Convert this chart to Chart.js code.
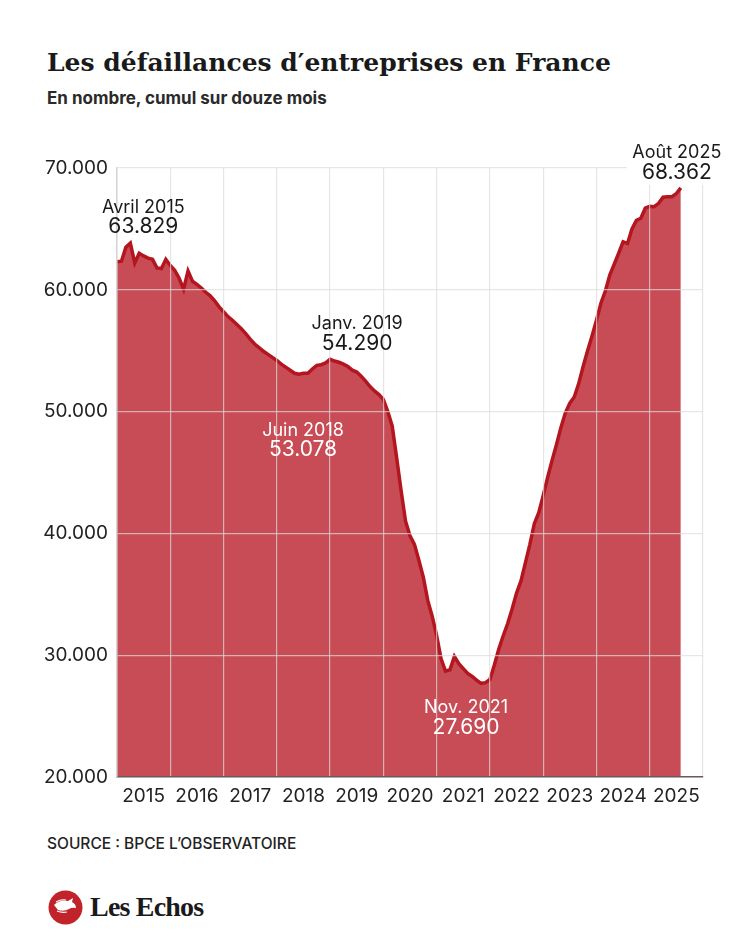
<!DOCTYPE html>
<html lang="fr">
<head>
    <meta charset="UTF-8">
    <title>Les défaillances d'entreprises en France</title>
    <style>
        body {
            margin: 0;
            background: #fff;
            font-family: Inter, Roboto, sans-serif;
            color: #222;
        }
        .page {
            position: relative;
            width: 750px;
            height: 938px;
            overflow: hidden;
        }
        .title {
            position: absolute;
            left: 47px;
            top: 50px;
            font: bold 25px/1 "DejaVu Serif", serif;
            color: #1a1a1a;
            white-space: nowrap;
        }
        .subtitle {
            position: absolute;
            left: 47px;
            top: 90px;
            font: 700 17px/1 Inter, sans-serif;
            color: #2a2a2a;
        }
        #chart {
            position: absolute;
            left: 0;
            top: 130px;
        }
        .source {
            position: absolute;
            left: 47px;
            top: 836px;
            font: 500 15.5px/1 Inter, sans-serif;
            color: #222;
        }
        .logo {
            position: absolute;
            left: 48px;
            top: 890px;
        }
        .brand {
            position: absolute;
            left: 90px;
            top: 893px;
            font: bold 28px/1 "Liberation Serif", serif;
            letter-spacing: -0.8px;
            color: #1a1a1a;
        }
    </style>
</head>
<body>
    <div class="page">
        <div class="title">Les défaillances d′entreprises en France</div>
        <div class="subtitle">En nombre, cumul sur douze mois</div>
        <canvas id="chart" width="750" height="685"></canvas>
        <div class="source">SOURCE : BPCE L’OBSERVATOIRE</div>
        <svg class="logo" width="35" height="35" viewBox="0 0 35 35">
            <circle cx="17.5" cy="17.5" r="17" fill="#c1232b"/>
            <path d="M6 15 q6 -6 14 -4 l5 -3 l-1 4 q4 2 4 6 q-4 -1 -7 1 q-5 3 -11 1 z" fill="#fff"/>
            <path d="M9 21 q5 2 10 1 M8 12 q5 -3 10 -2" stroke="#fff" stroke-width="1.2" fill="none"/>
        </svg>
        <div class="brand">Les Echos</div>
    </div>

    <script src="https://cdn.jsdelivr.net/npm/chart.js"></script>

    <script>
        // DATA : défaillances cumulées sur 12 mois, janv. 2015 -> août 2025 (index = mois depuis janv. 2015)
        const firstYear = 2015;
        const yearLabels = ['2015', '2016', '2017', '2018', '2019', '2020', '2021', '2022', '2023', '2024', '2025'];
        const yTicks = [20000, 30000, 40000, 50000, 60000, 70000];

        const monthlyCount = [
            62300, 62350, 63500, 63829, 62200, 63000, 62780, 62600, 62500, 61800, 61750, 62500, // 2015
            62000, 61600, 60950, 60050, 61550, 60700, 60450, 60150, 59800, 59500, 59100, 58600, // 2016
            58200, 57800, 57500, 57150, 56800, 56400, 55950, 55550, 55250, 54950, 54700, 54450, // 2017
            54200, 53900, 53650, 53400, 53150, 53078, 53150, 53150, 53500, 53800, 53850, 54000, // 2018
            54290, 54150, 54050, 53900, 53700, 53400, 53250, 52900, 52500, 52050, 51700, 51400, // 2019
            51000, 50000, 48800, 46200, 43500, 41000, 39800, 39100, 37800, 36400, 34500, 33200, // 2020
            31600, 29700, 28700, 28800, 29900, 29300, 28900, 28500, 28250, 27950, 27690, 27750, // 2021
            28000, 29200, 30500, 31600, 32600, 33800, 35100, 36100, 37600, 39100, 40800, 41700, // 2022
            43100, 44600, 46000, 47300, 48700, 49900, 50700, 51200, 52300, 53700, 55000, 56200, // 2023
            57500, 58900, 59900, 61200, 62100, 63000, 63950, 63800, 65000, 65700, 65870, 66700, // 2024
            66850, 66820, 67100, 67600, 67640, 67640, 67900, 68362                              // 2025
        ];

        const calloutMonths = [3, 48, 41, 82, 127];
        const calloutLabels = ['Avril 2015', 'Janv. 2019', 'Juin 2018', 'Nov. 2021', 'Août 2025'];
    </script>

    <script>
        const fmt = (v) => String(v).replace(/\B(?=(\d{3})+(?!\d))/g, '.');

        // where each callout sits relative to its point: [dx, dy label, dy value, colour, white box]
        const placement = {
            3: [13, -36, -16, '#1a1a1a', false],
            48: [27, -36, -16, '#1a1a1a', false],
            41: [4, 56, 76, '#ffffff', false],
            82: [-15, 24, 44, '#ffffff', false],
            127: [-4, -35, -15, '#1a1a1a', true]
        };

        const calloutPlugin = {
            id: 'callouts',
            afterDraw(chart) {
                const ctx = chart.ctx;
                const x = chart.scales.x;
                const y = chart.scales.y;
                ctx.save();
                ctx.textAlign = 'center';
                ctx.textBaseline = 'middle';
                calloutMonths.forEach((m, i) => {
                    const [dx, dyL, dyV, color, box] = placement[m];
                    const px = x.getPixelForValue(m) + dx;
                    const py = y.getPixelForValue(monthlyCount[m]);
                    if (box) {
                        ctx.fillStyle = '#fff';
                        ctx.fillRect(px - 50, py + dyL - 12, 100, dyV - dyL + 24);
                    }
                    ctx.fillStyle = color;
                    ctx.font = '18px Inter, sans-serif';
                    ctx.fillText(calloutLabels[i], px, py + dyL);
                    ctx.font = '21px Inter, sans-serif';
                    ctx.fillText(fmt(monthlyCount[m]), px, py + dyV);
                });
                ctx.restore();
            }
        };

        const gridColor = 'rgba(220, 220, 220, 0.7)';

        new Chart(document.getElementById('chart'), {
            type: 'line',
            data: {
                datasets: [{
                    data: monthlyCount.map((v, i) => ({ x: i, y: v })),
                    borderColor: '#b3161f',
                    borderWidth: 3.5,
                    backgroundColor: '#c84c55',
                    fill: 'start',
                    pointRadius: 0,
                    tension: 0
                }]
            },
            options: {
                responsive: false,
                animation: false,
                layout: { padding: { top: 38, right: 47, bottom: 0, left: 0 } },
                plugins: {
                    legend: { display: false },
                    tooltip: { enabled: false }
                },
                scales: {
                    x: {
                        type: 'linear',
                        min: 0,
                        max: yearLabels.length * 12,
                        afterFit: (axis) => { axis.height = 38; },
                        grid: {
                            z: 1,
                            drawTicks: false,
                            lineWidth: 1.2,
                            color: (c) => (c.tick && c.tick.value % 12 === 0 ? gridColor : 'transparent')
                        },
                        border: { z: 2, color: '#6b5a5a', width: 1.5 },
                        ticks: {
                            stepSize: 6,
                            autoSkip: false,
                            maxRotation: 0,
                            padding: 8,
                            color: '#222',
                            font: { family: 'Inter', size: 19 },
                            callback: (v) => (v % 12 === 6 ? yearLabels[(v - 6) / 12] : '')
                        }
                    },
                    y: {
                        min: yTicks[0],
                        max: yTicks[yTicks.length - 1],
                        afterFit: (axis) => { axis.width = 117; },
                        afterBuildTicks: (axis) => { axis.ticks = yTicks.map((v) => ({ value: v })); },
                        grid: { z: 1, drawTicks: false, lineWidth: 1.2, color: gridColor },
                        border: { z: 2, color: '#d4d4d4', width: 1.5 },
                        ticks: {
                            padding: 9,
                            color: '#222',
                            font: { family: 'Inter', size: 19 },
                            callback: (v) => fmt(v)
                        }
                    }
                }
            },
            plugins: [calloutPlugin]
        });
    </script>
</body>
</html>
